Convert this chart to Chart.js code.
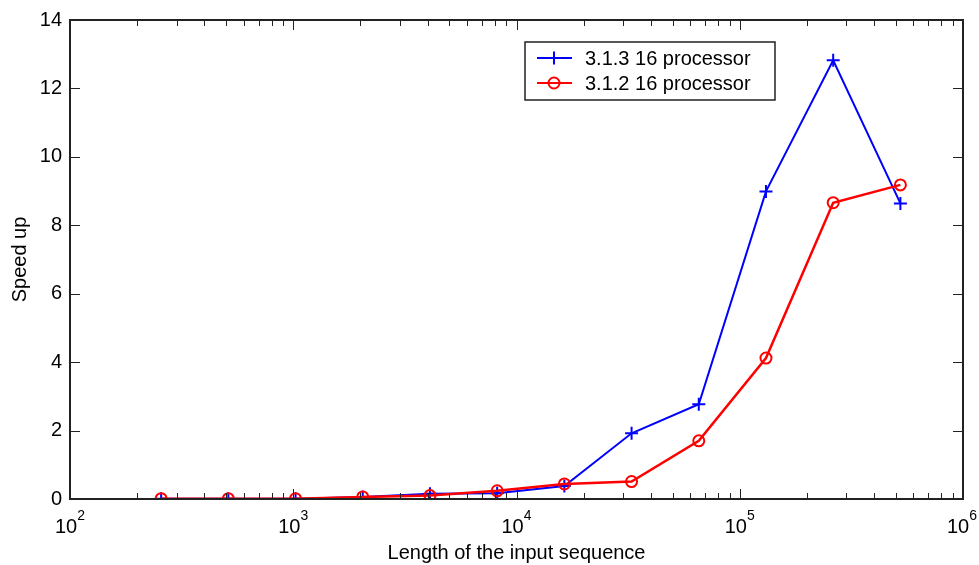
<!DOCTYPE html>
<html>
<head>
<meta charset="utf-8">
<script src="https://cdn.jsdelivr.net/npm/chart.js@4/dist/chart.umd.min.js"></script>
<style>
  body { margin: 0; background: #fff; }
</style>
</head>
<body>
<canvas id="speedChart" width="979" height="565"></canvas>
<script>
const lengths = [256, 512, 1024, 2048, 4096, 8192, 16384, 32768, 65536, 131072, 262144, 524288];
const speedup313 = [0.01, 0.01, 0.01, 0.06, 0.15, 0.17, 0.38, 1.92, 2.77, 8.99, 12.82, 8.64];
const speedup312 = [0.01, 0.01, 0.01, 0.06, 0.10, 0.24, 0.44, 0.51, 1.70, 4.12, 8.66, 9.18];
const yTicks = [0, 2, 4, 6, 8, 10, 12, 14];
const xDecades = [2, 3, 4, 5, 6];
const seriesLabels = ["3.1.3 16 processor", "3.1.2 16 processor"];
const seriesColors = ["#0000ff", "#ff0000"];

const FONT = "'Liberation Sans', Arial, sans-serif";

function toPoints(values) {
  return lengths.map((len, i) => ({ x: len, y: values[i] }));
}

// matlab style box: inward ticks on all four sides, 10^n labels, legend in the corner
const matlabAxes = {
  id: "matlabAxes",
  afterDraw(chart) {
    const { ctx, chartArea: a, scales: { x, y } } = chart;
    ctx.save();
    ctx.strokeStyle = "#222";
    ctx.lineWidth = 2;
    ctx.strokeRect(a.left, a.top, a.right - a.left, a.bottom - a.top);

    ctx.lineWidth = 1;
    ctx.beginPath();
    xDecades.forEach(d => {
      const mults = d === xDecades[xDecades.length - 1] ? [1] : [1, 2, 3, 4, 5, 6, 7, 8, 9];
      mults.forEach(m => {
        const px = Math.round(x.getPixelForValue(m * Math.pow(10, d))) + 0.5;
        const len = m === 1 ? 10 : 6;
        ctx.moveTo(px, a.bottom);
        ctx.lineTo(px, a.bottom - len);
        ctx.moveTo(px, a.top);
        ctx.lineTo(px, a.top + len);
      });
    });
    yTicks.forEach(v => {
      const py = Math.round(y.getPixelForValue(v)) + 0.5;
      ctx.moveTo(a.left, py);
      ctx.lineTo(a.left + 10, py);
      ctx.moveTo(a.right, py);
      ctx.lineTo(a.right - 10, py);
    });
    ctx.stroke();

    // decade labels with superscript exponent
    ctx.fillStyle = "#000";
    ctx.textBaseline = "alphabetic";
    xDecades.forEach(d => {
      const px = x.getPixelForValue(Math.pow(10, d));
      ctx.font = "20px " + FONT;
      const baseW = ctx.measureText("10").width;
      ctx.font = "14px " + FONT;
      const expW = ctx.measureText(String(d)).width;
      const left = Math.min(px - (baseW + expW) / 2, 977 - baseW - expW);
      ctx.font = "20px " + FONT;
      ctx.fillText("10", left, a.bottom + 34);
      ctx.font = "14px " + FONT;
      ctx.fillText(String(d), left + baseW, a.bottom + 21);
    });

    // legend
    const box = { left: 525, top: 42, width: 250, height: 58 };
    ctx.fillStyle = "#fff";
    ctx.fillRect(box.left, box.top, box.width, box.height);
    ctx.strokeStyle = "#222";
    ctx.lineWidth = 1.5;
    ctx.strokeRect(box.left, box.top, box.width, box.height);
    ctx.textBaseline = "middle";
    ctx.font = "20px " + FONT;
    chart.data.datasets.slice().sort((p, q) => seriesLabels.indexOf(p.label) - seriesLabels.indexOf(q.label)).forEach((ds, i) => {
      const cy = box.top + 16 + i * 25;
      ctx.strokeStyle = ds.borderColor;
      ctx.lineWidth = 2;
      ctx.beginPath();
      ctx.moveTo(537, cy);
      ctx.lineTo(572, cy);
      ctx.stroke();
      ctx.beginPath();
      if (ds.pointStyle === "cross") {
        ctx.moveTo(554, cy - ds.pointRadius);
        ctx.lineTo(554, cy + ds.pointRadius);
      } else {
        ctx.arc(554, cy, ds.pointRadius, 0, Math.PI * 2);
      }
      ctx.stroke();
      ctx.fillStyle = "#000";
      ctx.fillText(ds.label, 585, cy + 1);
    });
    ctx.restore();
  }
};

new Chart(document.getElementById("speedChart"), {
  type: "line",
  data: {
    datasets: [{
      label: seriesLabels[0],
      data: toPoints(speedup313),
      borderColor: seriesColors[0],
      borderWidth: 2,
      pointStyle: "cross",
      pointRadius: 6.5,
      pointBorderWidth: 2,
      pointBorderColor: seriesColors[0],
      tension: 0,
      fill: false,
      order: 1
    }, {
      label: seriesLabels[1],
      data: toPoints(speedup312),
      borderColor: seriesColors[1],
      borderWidth: 2.5,
      pointStyle: "circle",
      pointRadius: 5.5,
      pointBorderWidth: 2,
      pointBorderColor: seriesColors[1],
      pointBackgroundColor: "rgba(0,0,0,0)",
      tension: 0,
      fill: false,
      order: 0
    }]
  },
  options: {
    responsive: false,
    animation: false,
    devicePixelRatio: 1,
    layout: { padding: { top: 20, right: 16, left: 0, bottom: 0 } },
    plugins: {
      legend: { display: false },
      tooltip: { enabled: false }
    },
    scales: {
      x: {
        type: "logarithmic",
        min: 100,
        max: 1000000,
        grid: { display: false, drawTicks: false },
        border: { display: false },
        ticks: { display: false },
        title: {
          display: true,
          text: "Length of the input sequence",
          color: "#000",
          font: { family: FONT, size: 20 },
          padding: { top: 0, bottom: 0 }
        },
        afterFit(s) { s.height = 66; }
      },
      y: {
        min: 0,
        max: 14,
        grid: { display: false, drawTicks: false },
        border: { display: false },
        ticks: {
          stepSize: 2,
          color: "#000",
          font: { family: FONT, size: 20 },
          padding: 8
        },
        title: {
          display: true,
          text: "Speed up",
          color: "#000",
          font: { family: FONT, size: 20 },
          padding: { top: 8, bottom: 0 }
        },
        afterFit(s) { s.width = 70; }
      }
    }
  },
  plugins: [matlabAxes]
});
</script>
</body>
</html>
